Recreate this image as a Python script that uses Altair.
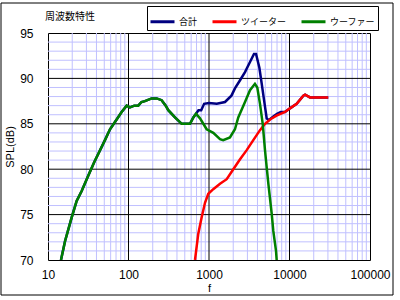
import altair as alt
import pandas as pd

# ---- data ----
woofer_f = [14.5, 16.3, 19.7, 22.7, 26.2, 31.7, 37.6, 42.2, 51, 58.9, 67.9, 82.2, 94.9, 104, 118,
            132, 145, 160, 194, 224, 258, 290, 312, 378, 458, 504, 581, 639, 690, 773, 935, 1130,
            1370, 1500, 1820, 2100, 2310, 2800, 3230, 3720, 3980, 4300, 4650, 4960, 5210, 5460,
            6010, 6290, 6800, 6930]
woofer_db = [70.0, 72.1, 74.7, 76.5, 77.6, 79.3, 80.8, 81.7, 83.2, 84.4, 85.2, 86.3, 87.0, 86.8, 87.0,
             87.0, 87.4, 87.5, 87.8, 87.8, 87.6, 87.0, 86.5, 85.7, 85.0, 85.0, 85.0, 85.7, 86.1, 85.6, 84.4, 84.0,
             83.3, 83.2, 83.5, 84.4, 85.7, 87.4, 88.7, 89.4, 89.0, 87.2, 85.0, 82.1, 80.2, 78.4,
             75.1, 73.2, 71.0, 70.0]

tweeter_f = [670, 736, 811, 892, 980, 1130, 1370, 1660, 2005, 2430, 2940, 3550, 4300, 4970, 5800,
             6900, 8790, 10140, 12270, 14860, 15600, 17990, 30300]
tweeter_db = [70.0, 72.9, 74.7, 76.3, 77.3, 77.8, 78.4, 78.9, 80.0, 81.1, 82.1, 83.2, 84.3, 85.0, 85.5,
              85.9, 86.3, 86.7, 87.2, 88.1, 88.2, 87.9, 87.9]

total_f = woofer_f[:28] + [740, 800, 870, 1000, 1250, 1580, 1900, 2100, 2430, 2800, 3230, 3620, 3840,
                           4220, 4520, 4830, 5210, 5500, 6300, 7000, 7800, 8790, 10140, 12270, 14860,
                           15600, 17990, 30300]
total_db = woofer_db[:28] + [86.5, 86.5, 87.2, 87.3, 87.2, 87.4, 88.1, 88.9, 89.8, 90.7, 91.8, 92.7, 92.7,
                             91.2, 89.4, 87.6, 85.6, 85.4, 85.8, 86.1, 86.3, 86.3, 86.7, 87.2, 88.1,
                             88.2, 87.9, 87.9]

series_names = ["合計", "ツイーター", "ウーファー"]
series_colors = ["#000080", "#ff0000", "#008000"]

x_major = [100, 1000, 10000]
x_minor = [m * d for d in [10, 100, 1000, 10000] for m in range(2, 10)]
y_major = [75, 80, 85, 90]
y_minor = [v for v in range(71, 95) if v % 5 != 0]
x_labels = [10, 100, 1000, 10000, 100000]
y_labels = [70, 75, 80, 85, 90, 95]
chart_title = ["周波数特性"]

# ---- build tables ----
rows = []
for name, fs, dbs in [(series_names[0], total_f, total_db),
                      (series_names[1], tweeter_f, tweeter_db),
                      (series_names[2], woofer_f, woofer_db)]:
    for i, (f, d) in enumerate(zip(fs, dbs)):
        rows.append({"s": name, "f": f, "db": d, "o": i})
df = pd.DataFrame(rows)

xscale = alt.Scale(type="log", domain=[10, 100000], nice=False)
yscale = alt.Scale(domain=[70, 95], nice=False, zero=False)

x_axis = alt.Axis(values=x_labels, format="d", grid=False, ticks=False, domain=False,
                  labelPadding=9, labelFont="Liberation Sans", labelFontSize=12,
                  labelColor="black", titleFont="Liberation Sans", titleFontSize=11,
                  titleFontWeight="normal", titlePadding=2, titleColor="black",
                  labelFlush=False)
y_axis = alt.Axis(values=y_labels, grid=False, ticks=False, domain=False,
                  labelPadding=15, labelFont="Liberation Sans", labelFontSize=12,
                  labelColor="black", titleFont="Liberation Sans", titleFontSize=11,
                  titleFontWeight="normal", titlePadding=4, titleColor="black")

X = lambda: alt.X("f:Q", scale=xscale, title="f", axis=x_axis)
Y = lambda: alt.Y("db:Q", scale=yscale, title="SPL(dB)", axis=y_axis)

minor_x = alt.Chart(pd.DataFrame({"f": x_minor})).mark_rule(color="#c0c0ff", strokeWidth=1).encode(x=X())
minor_y = alt.Chart(pd.DataFrame({"db": y_minor})).mark_rule(color="#c0c0ff", strokeWidth=1).encode(y=Y())
major_x = alt.Chart(pd.DataFrame({"f": x_major})).mark_rule(color="black", strokeWidth=1).encode(x=X())
major_y = alt.Chart(pd.DataFrame({"db": y_major})).mark_rule(color="black", strokeWidth=1).encode(y=Y())

lines = alt.Chart(df).mark_line(strokeWidth=2.5, clip=True).encode(
    x=X(),
    y=Y(),
    color=alt.Color("s:N", scale=alt.Scale(domain=series_names, range=series_colors),
                    legend=alt.Legend(orient="none", legendX=99, legendY=-27, direction="horizontal",
                                      title=None, symbolType="stroke", symbolSize=576,
                                      symbolStrokeWidth=3, labelFont="Noto Sans CJK JP",
                                      labelFontSize=9, labelColor="black", strokeColor="black",
                                      padding=2, columnPadding=8, labelOffset=3)),
    order=alt.Order("o:Q"),
)

dummy = pd.DataFrame({"t": chart_title})
title_txt = alt.Chart(dummy).mark_text(align="left", baseline="middle", font="Noto Sans CJK JP",
                                        fontSize=10, color="black").encode(
    x=alt.value(-3), y=alt.value(-16), text="t:N")
border = alt.Chart(dummy).mark_rect(fill="transparent", stroke="black", strokeWidth=1).encode(
    x=alt.value(-47), x2=alt.value(345), y=alt.value(-30), y2=alt.value(262))

chart = alt.layer(minor_x, minor_y, major_x, major_y, lines, title_txt, border).properties(
    width=322, height=227,
    autosize=alt.AutoSizeParams(type="none"),
    padding={"left": 48, "top": 33, "right": 30, "bottom": 40},
    background="white",
).configure_view(stroke="black", strokeWidth=1)

chart.save("out.html", embed_options={"renderer": "svg", "actions": False})
